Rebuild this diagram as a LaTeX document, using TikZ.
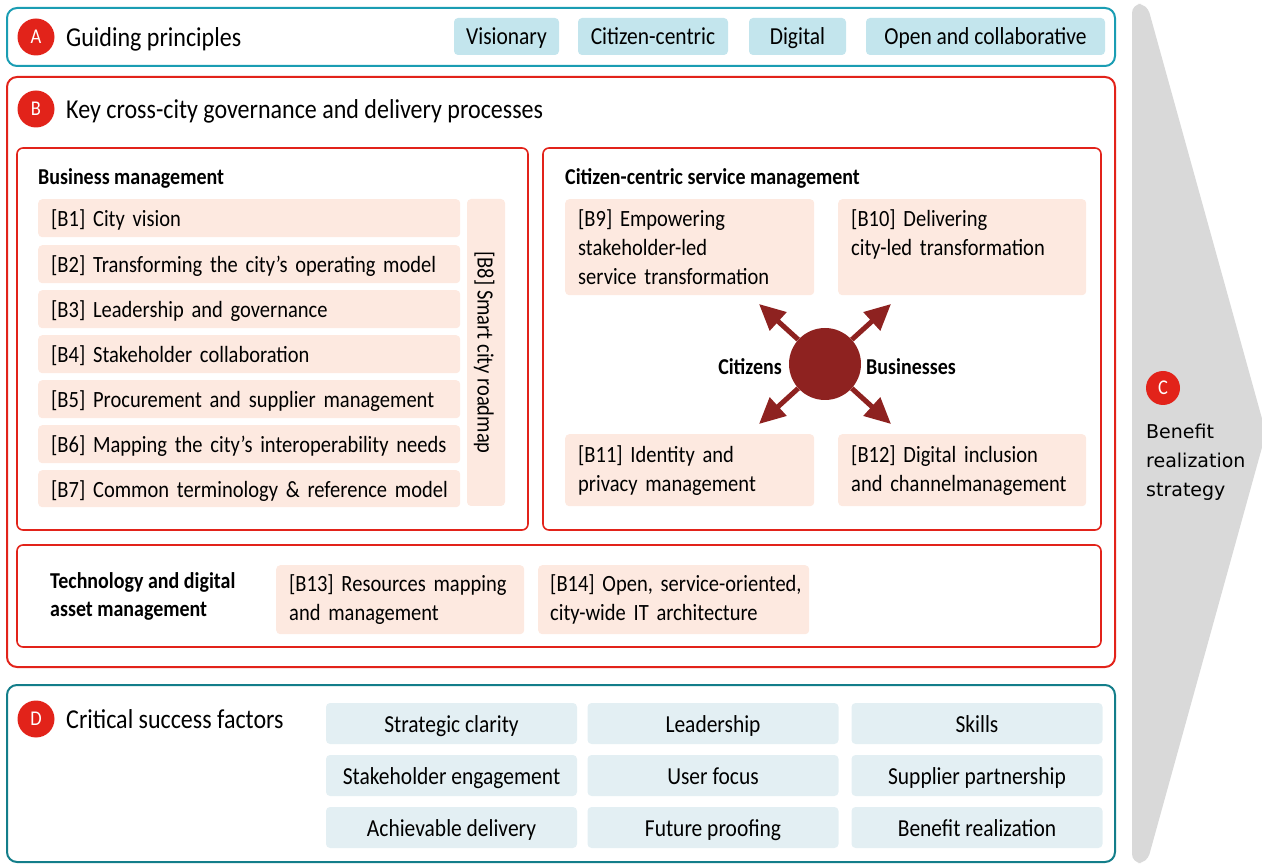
\documentclass[tikz,border=0pt]{standalone}
\usepackage{fontspec}
\setmainfont[FakeStretch=0.88]{Carlito}
\newfontfamily\wideface{DejaVu Sans}
\usetikzlibrary{arrows.meta}

\definecolor{tealA}{HTML}{1A9DB3}
\definecolor{tealD}{HTML}{137E8A}
\definecolor{redmark}{HTML}{E2231A}
\definecolor{hubred}{HTML}{8E2220}
\definecolor{peach}{HTML}{FDE9E0}
\definecolor{skyfill}{HTML}{C3E5ED}
\definecolor{palefill}{HTML}{E3EFF3}
\definecolor{arrowgrey}{HTML}{D9D9D9}

\newcommand{\headfont}{\fontsize{27.3}{30}\selectfont}
\newcommand{\boxfont}{\fontsize{23.3}{29}\selectfont}
\newcommand{\tagfont}{\fontsize{24.4}{29}\selectfont}
\newcommand{\subfont}{\fontsize{22.7}{28}\selectfont\bfseries}

\tikzset{
  frame/.style={line width=2pt, rounded corners=10pt},
  subframe/.style={draw=redmark, line width=1.6pt, rounded corners=6pt},
  badge/.style={circle, fill=redmark, text=white, minimum size=37pt, inner sep=0pt, font=\fontsize{21}{21}\selectfont},
  heading/.style={anchor=west, inner sep=0pt, font=\headfont},
  pbox/.style={fill=peach, rounded corners=4pt, anchor=north west, inner xsep=13pt, inner ysep=0pt, align=left, font=\boxfont},
  onerow/.style={text height=19pt, text depth=2pt},
  principle/.style={fill=skyfill, rounded corners=4pt, minimum height=37pt, inner sep=0pt, onerow, font=\tagfont},
  factor/.style={fill=palefill, rounded corners=4pt, minimum width=251pt, minimum height=41pt, inner sep=0pt, onerow, font=\tagfont},
  spoke/.style={draw=hubred, line width=5pt, -{Triangle[length=26pt,width=24pt]}},
}

\begin{document}
\begin{tikzpicture}[x=1pt,y=-1pt]
\useasboundingbox (0,0) rectangle (1262,866);

% benefit arrow C
\fill[arrowgrey, rounded corners=9pt] (1132,4) -- (1147,4) -- (1266,433) -- (1147,863) -- (1132,863) -- cycle;
\node[badge, minimum size=34pt] (c) at (1163,388) {C};
\node[anchor=north west, inner sep=0pt, align=left, font=\wideface\fontsize{19}{29}\selectfont] (ctext) at (1146,424) {Benefit\\realization\\strategy};

% A: guiding principles
\draw[frame, draw=tealA] (7,8) rectangle (1115,66);
\node[badge] (a) at (36,37) {A};
\node[heading, onerow] (atext) at (66,38) {Guiding principles};
\node[principle, minimum width=105pt] (p1) at (506.5,36.5) {Visionary};
\node[principle, minimum width=150pt] (p2) at (653,36.5) {Citizen-centric};
\node[principle, minimum width=97pt] (p3) at (797.5,36.5) {Digital};
\node[principle, minimum width=239pt] (p4) at (985.5,36.5) {Open and collaborative};

% B: processes
\draw[frame, draw=redmark] (7,77) rectangle (1115,667);
\node[badge] (b) at (36,109) {B};
\node[heading, onerow] (btext) at (66,110) {Key cross-city governance and delivery processes};

% business management
\draw[subframe] (17,148) rectangle (528,530);
\node[anchor=west, inner sep=0pt, onerow, font=\subfont] (bm) at (38,176) {Business management};
\node[pbox, onerow, text width=396pt, minimum height=38pt] (b1) at (38,199) {[B1] City vision};
\node[pbox, onerow, text width=396pt, minimum height=38pt] (b2) at (38,245) {\mbox{[B2] Transforming the city's operating model}};
\node[pbox, onerow, text width=396pt, minimum height=38pt] (b3) at (38,290) {[B3] Leadership and governance};
\node[pbox, onerow, text width=396pt, minimum height=38pt] (b4) at (38,335) {[B4] Stakeholder collaboration};
\node[pbox, onerow, text width=396pt, minimum height=38pt] (b5) at (38,380) {\mbox{[B5] Procurement and supplier management}};
\node[pbox, onerow, text width=396pt, minimum height=38pt] (b6) at (38,425) {\mbox{[B6] Mapping the city's interoperability needs}};
\node[pbox, onerow, text width=396pt, minimum height=37pt] (b7) at (38,470) {\mbox{[B7] Common terminology \& reference model}};
\fill[peach, rounded corners=4pt] (467,199) rectangle (505,506);
\node[rotate=-90, inner sep=0pt, onerow, font=\boxfont] (b8) at (486,352.5) {[B8] Smart city roadmap};

% citizen-centric service management
\draw[subframe] (543,148) rectangle (1101,530);
\node[anchor=west, inner sep=0pt, onerow, font=\subfont] (cs) at (565,176) {Citizen-centric service management};
\node[pbox, text width=223pt, minimum height=96pt] (b9) at (565,199) {[B9] Empowering\\stakeholder-led\\service transformation};
\node[pbox, text width=222pt, minimum height=96pt] (b10) at (838,199) {[B10] Delivering\\city-led transformation\\\mbox{}};
\node[pbox, text width=223pt, minimum height=72pt] (b11) at (565,434) {[B11] Identity and\\privacy management};
\node[pbox, text width=222pt, minimum height=72pt] (b12) at (838,434) {[B12] Digital inclusion\\and channelmanagement};

\node[circle, fill=hubred, minimum size=72pt, inner sep=0pt] (hub) at (825,364) {};
\coordinate (nw) at (759,304);
\coordinate (ne) at (891,304);
\coordinate (sw) at (759,424);
\coordinate (se) at (891,424);
\draw[spoke] (hub) -- (nw);
\draw[spoke] (hub) -- (ne);
\draw[spoke] (hub) -- (sw);
\draw[spoke] (hub) -- (se);
\node[inner sep=0pt, onerow, font=\subfont] (citizens) at (750,366) {Citizens};
\node[inner sep=0pt, onerow, font=\subfont] (business) at (911,366) {Businesses};

% technology and digital asset management
\draw[subframe] (17,545) rectangle (1101,647);
\node[anchor=west, inner sep=0pt, align=left, font=\subfont] (tech) at (50,596) {Technology and digital\\asset management};
\node[pbox, text width=222pt, minimum height=69pt] (b13) at (276,565) {[B13] Resources mapping\\and management};
\node[pbox, inner xsep=12pt, text width=247pt, minimum height=69pt] (b14) at (538,565) {\mbox{[B14] Open, service-oriented,}\\city-wide IT architecture};

% D: critical success factors
\draw[frame, draw=tealD] (7,685) rectangle (1115,862);
\node[badge] (d) at (36,719) {D};
\node[heading, onerow] (dtext) at (66,720) {Critical success factors};
\node[factor] (f1) at (451.5,723.5) {Strategic clarity};
\node[factor] (f2) at (713,723.5) {Leadership};
\node[factor] (f3) at (977,723.5) {Skills};
\node[factor] (f4) at (451.5,775.5) {Stakeholder engagement};
\node[factor] (f5) at (713,775.5) {User focus};
\node[factor] (f6) at (977,775.5) {Supplier partnership};
\node[factor] (f7) at (451.5,827.5) {Achievable delivery};
\node[factor] (f8) at (713,827.5) {Future proofing};
\node[factor] (f9) at (977,827.5) {Benefit realization};
\end{tikzpicture}
\end{document}
